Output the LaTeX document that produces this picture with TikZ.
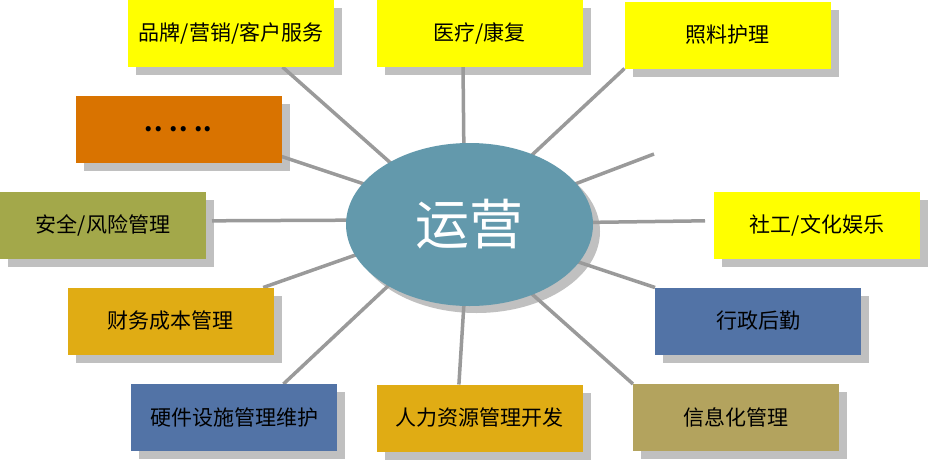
\documentclass[tikz,border=0pt]{standalone}
\usepackage{fontspec}
\newfontfamily\cjk{Noto Sans CJK SC}
\usetikzlibrary{shapes.geometric,calc}
\definecolor{yel}{HTML}{FFFF00}
\definecolor{org}{HTML}{D97300}
\definecolor{olv}{HTML}{A3A84A}
\definecolor{gld}{HTML}{E0AC14}
\definecolor{blu}{HTML}{5273A6}
\definecolor{kha}{HTML}{B3A35E}
\definecolor{ellc}{HTML}{6399AC}
\definecolor{shadc}{HTML}{C0C0C0}
\definecolor{linec}{HTML}{9A9A9A}
\pgfdeclarelayer{shadowlayer}
\pgfdeclarelayer{linelayer}
\pgfsetlayers{shadowlayer,linelayer,main}
\tikzset{
  box/.style={rectangle, minimum width=206pt, minimum height=67pt, inner sep=0pt, outer sep=0pt,
    font=\cjk\fontsize{21}{24}\selectfont, text=black},
  conn/.style={draw=linec, line width=3.5pt, shorten <=-4pt},
  shd/.style={fill=shadc}
}
\begin{document}
\begin{tikzpicture}[x=1pt,y=-1pt]
\useasboundingbox (0,0) rectangle (929,461);
% centre
\node[ellipse, minimum width=247pt, minimum height=163pt, inner sep=0pt, outer sep=0pt,
  fill=ellc, text=white, font=\cjk\fontsize{54}{60}\selectfont] (e) at (469.5,224.5) {运营};
% boxes
\node[box, fill=yel] (pb) at (231,33.5) {品牌/营销/客户服务};
\node[box, fill=yel] (yl) at (479.5,33.5) {医疗/康复};
\node[box, fill=yel] (zl) at (727.5,35) {照料护理};
\node[box, fill=org, font=\cjk\bfseries\fontsize{24}{26}\selectfont] (dt) at (178.5,129) {.\kern1pt.\hspace{7pt}.\kern1pt.\hspace{7pt}.\kern1pt.};
\node[box, fill=olv] (aq) at (103,225.5) {安全/风险管理};
\node[box, fill=yel] (sg) at (817,225.5) {社工/文化娱乐};
\node[box, fill=gld] (cw) at (170.5,321) {财务成本管理};
\node[box, fill=blu] (xz) at (758,321) {行政后勤};
\node[box, fill=blu] (yj) at (234,417.5) {硬件设施管理维护};
\node[box, fill=gld] (rl) at (479.5,418) {人力资源管理开发};
\node[box, fill=kha] (xx) at (736,417.5) {信息化管理};
\coordinate (fr) at (654,154);
% shadows
\begin{pgfonlayer}{shadowlayer}
\foreach \n in {pb,yl,zl,dt,aq,sg,cw,xz,yj,rl,xx}{
  \fill[shd] ([shift={(8pt,-8pt)}]\n.south west) rectangle ([shift={(8pt,-8pt)}]\n.north east);
}
\fill[shd] ([shift={(7pt,-7pt)}]e.center) ellipse (123.5pt and 81.5pt);
\end{pgfonlayer}
% connectors
\begin{pgfonlayer}{linelayer}
\draw[conn] (e.142.6) -- ($(pb.south west)!0.75!(pb.south east)$);
\draw[conn] (e.94.6) -- ($(yl.south west)!0.42!(yl.south east)$);
\draw[conn] (e.48.8) -- (zl.south west);
\draw[conn] (e.21.9) -- (fr);
\draw[conn] (e.1.6) -- ([xshift=-9pt]$(sg.north west)!0.43!(sg.south west)$);
\draw[conn] (e.159.8) -- ($(dt.north east)!0.91!(dt.south east)$);
\draw[conn] (e.178.4) -- ([xshift=6pt]$(aq.north east)!0.43!(aq.south east)$);
\draw[conn] (e.195.4) -- ($(cw.north west)!0.95!(cw.north east)$);
\draw[conn] (e.217.8) -- ($(yj.north west)!0.74!(yj.north east)$);
\draw[conn] (e.266.6) -- ($(rl.north west)!0.40!(rl.north east)$);
\draw[conn] (e.312) -- (xx.north west);
\draw[conn] (e.341) -- (xz.north west);
\end{pgfonlayer}
\end{tikzpicture}
\end{document}
